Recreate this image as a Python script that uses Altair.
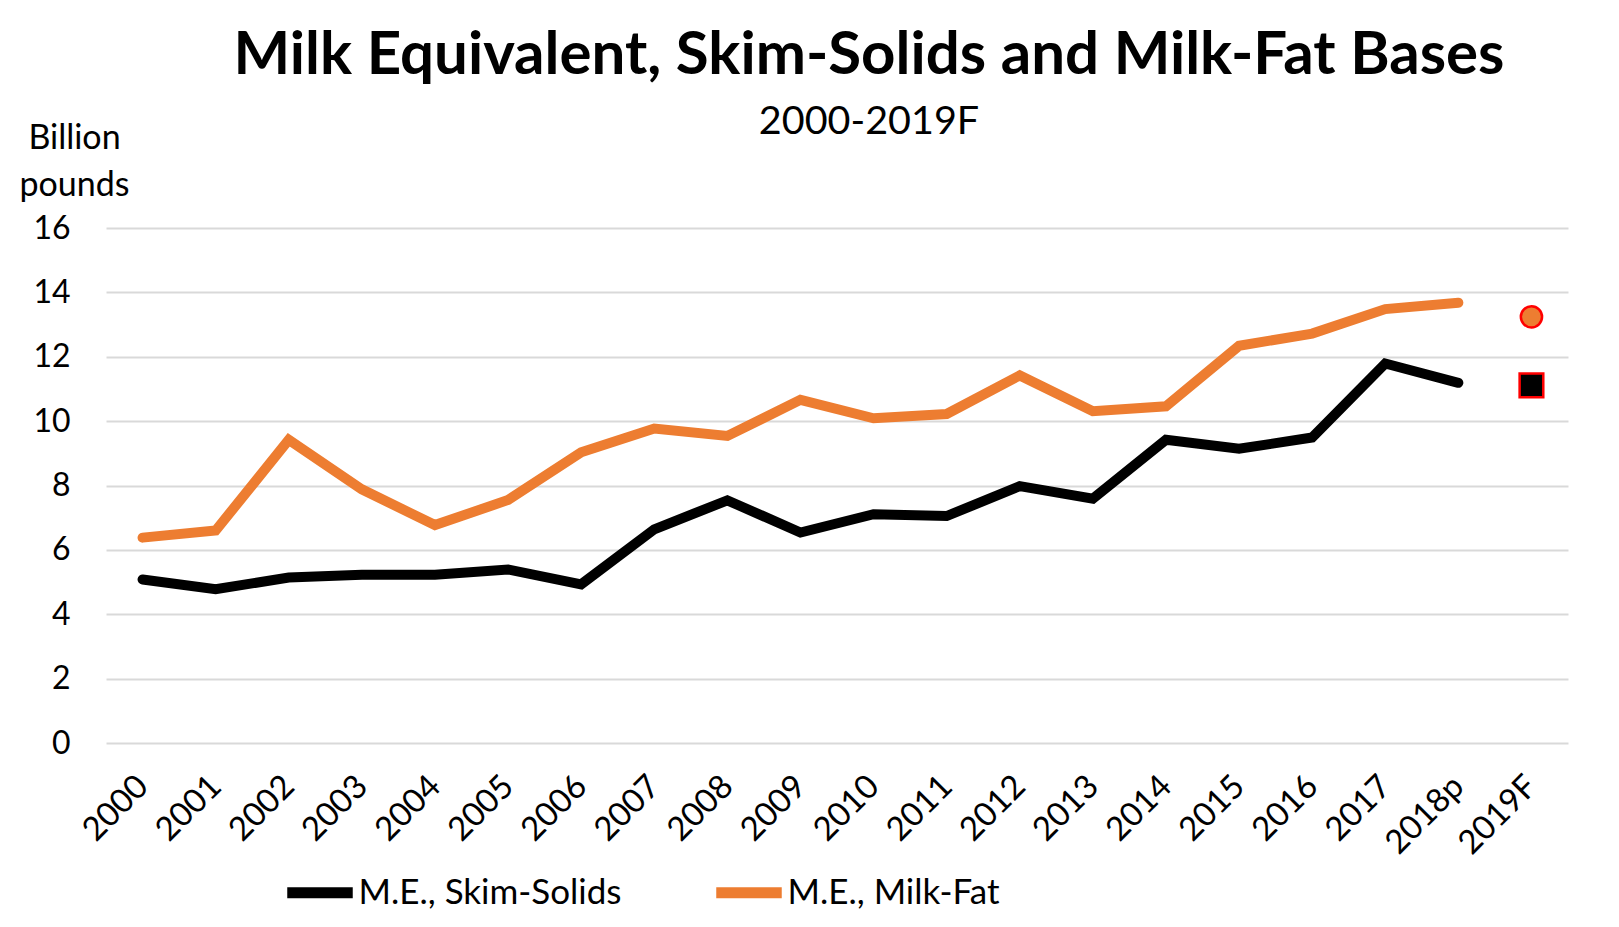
import altair as alt
import pandas as pd

years = ["2000", "2001", "2002", "2003", "2004", "2005", "2006", "2007", "2008", "2009",
         "2010", "2011", "2012", "2013", "2014", "2015", "2016", "2017", "2018p", "2019F"]
line_years = years[:-1]
skim_solids = [5.08, 4.78, 5.14, 5.23, 5.23, 5.39, 4.93, 6.64, 7.54, 6.54,
               7.11, 7.05, 7.98, 7.59, 9.42, 9.14, 9.49, 11.79, 11.19]
milk_fat = [6.38, 6.60, 9.42, 7.88, 6.77, 7.55, 9.03, 9.77, 9.54, 10.66,
            10.09, 10.22, 11.42, 10.31, 10.46, 12.34, 12.72, 13.48, 13.68]
forecast_skim = 11.11
forecast_fat = 13.24
series_names = ["M.E., Skim-Solids", "M.E., Milk-Fat"]
series_colors = ["#000000", "#ED7D31"]

rows = []
for y, v in zip(line_years, skim_solids):
    rows.append({"year": y, "series": series_names[0], "value": v})
for y, v in zip(line_years, milk_fat):
    rows.append({"year": y, "series": series_names[1], "value": v})
df = pd.DataFrame(rows)
fc_skim = pd.DataFrame({"year": [years[-1]], "value": [forecast_skim]})
fc_fat = pd.DataFrame({"year": [years[-1]], "value": [forecast_fat]})

FONT = "Lato"

x_enc = alt.X("year:O", sort=years, scale=alt.Scale(domain=years),
              axis=alt.Axis(title=None, labelAngle=-45, labelFontSize=33, labelFont=FONT,
                            labelColor="#000000", labelBaseline="middle", labelAlign="right",
                            ticks=False, domain=False, grid=False, labelPadding=38))
y_enc = alt.Y("value:Q", scale=alt.Scale(domain=[0, 16], nice=False),
              axis=alt.Axis(values=[0, 2, 4, 6, 8, 10, 12, 14, 16], title=["Billion", "pounds"],
                            titleAngle=0, titleX=-32, titleY=-80, titleAlign="center",
                            titleBaseline="alphabetic", titleFontSize=34, titleFont=FONT,
                            titleFontWeight="normal", titleLineHeight=47, titleColor="#000000",
                            labelFontSize=32, labelFont=FONT, labelColor="#000000",
                            labelPadding=36, ticks=False, domain=False,
                            grid=True, gridColor="#D9D9D9", gridWidth=2))

lines = alt.Chart(df).mark_line(strokeWidth=10, strokeCap="round").encode(
    x=x_enc, y=y_enc,
    color=alt.Color("series:N", scale=alt.Scale(domain=series_names, range=series_colors),
                    sort=series_names,
                    legend=alt.Legend(title=None, orient="none", legendX=175.5, legendY=626,
                                      direction="horizontal", symbolType="stroke",
                                      symbolStrokeWidth=11, symbolSize=4290,
                                      labelFontSize=35, labelFont=FONT, labelColor="#000000",
                                      labelOffset=0, columnPadding=72, labelLimit=500))
)

circle = alt.Chart(fc_fat).mark_point(shape="circle", filled=True, fill="#ED7D31",
                                      stroke="#FF0000", strokeWidth=2.5, size=450,
                                      opacity=1).encode(x=x_enc, y=y_enc)
square = alt.Chart(fc_skim).mark_point(shape="square", filled=True, fill="#000000",
                                       stroke="#FF0000", strokeWidth=2.5, size=560,
                                       opacity=1).encode(x=x_enc, y=y_enc)

chart = alt.layer(lines, circle, square).properties(
    width=1462, height=515,
    background="white",
    title=alt.TitleParams(text="Milk Equivalent, Skim-Solids and Milk-Fat Bases",
                          subtitle="2000-2019F", font=FONT, fontSize=60, fontWeight="bold",
                          color="#000000", subtitleFont=FONT, subtitleFontSize=39.5,
                          subtitleColor="#000000", anchor="middle", dx=32, offset=-21,
                          subtitlePadding=16),
    autosize=alt.AutoSizeParams(type="none"),
    padding={"left": 98, "top": 220, "right": 40, "bottom": 176},
).configure_view(stroke="transparent", strokeWidth=0)

chart.save("out.html", embed_options={"renderer": "svg", "actions": False})
